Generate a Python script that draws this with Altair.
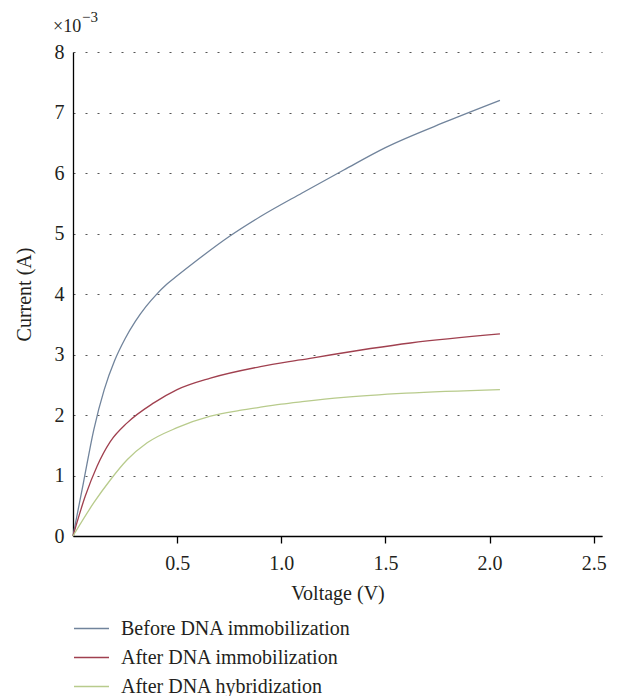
import altair as alt
import pandas as pd

FONT = "Liberation Serif"
TXT = "#231f20"

series_names = ["Before DNA immobilization", "After DNA immobilization", "After DNA hybridization"]
series_colors = ["#71849c", "#a0404f", "#b8cb8c"]

before_v = [0, 0.05, 0.10, 0.15, 0.20, 0.25, 0.30, 0.35, 0.40, 0.45, 0.50, 0.60, 0.75, 0.90, 1.10, 1.30, 1.50, 1.80, 2.05]
before_i = [0, 0.88, 1.76, 2.42, 2.90, 3.26, 3.55, 3.79, 3.99, 4.16, 4.30, 4.57, 4.95, 5.28, 5.67, 6.05, 6.42, 6.86, 7.20]

immob_v = [0, 0.059, 0.115, 0.179, 0.26, 0.388, 0.5, 0.66, 0.90, 1.09, 1.62, 2.05]
immob_i = [0, 0.66, 1.15, 1.56, 1.87, 2.2, 2.42, 2.61, 2.80, 2.91, 3.19, 3.34]

hybr_v = [0, 0.1, 0.18, 0.26, 0.356, 0.5, 0.66, 0.80, 0.90, 1.00, 1.10, 1.30, 1.60, 2.05]
hybr_i = [0, 0.55, 0.93, 1.26, 1.54, 1.79, 1.98, 2.075, 2.13, 2.18, 2.22, 2.29, 2.36, 2.42]

x_ticks = [0.5, 1.0, 1.5, 2.0, 2.5]
y_ticks = [0, 1, 2, 3, 4, 5, 6, 7, 8]

rows = []
for name, vs, cs in zip(series_names, [before_v, immob_v, hybr_v], [before_i, immob_i, hybr_i]):
    for k, (v, c) in enumerate(zip(vs, cs)):
        rows.append({"series": name, "voltage": v, "current": c, "order": k})
df = pd.DataFrame(rows)

lines = alt.Chart(df).mark_line(strokeWidth=1.3, interpolate="monotone").encode(
    x=alt.X("voltage:Q", title="Voltage (V)",
            scale=alt.Scale(domain=[0, 2.54], nice=False, zero=True),
            axis=alt.Axis(values=x_ticks, format=".1f", grid=False, tickSize=7,
                          tickColor="black", domainColor="black", domainWidth=1.3,
                          tickWidth=1.3, labelPadding=10, titlePadding=10,
                          labelFontSize=20)),
    y=alt.Y("current:Q", title="Current (A)",
            scale=alt.Scale(domain=[0, 8], nice=False),
            axis=alt.Axis(values=y_ticks, format="d", grid=True, ticks=False,
                          gridDash=[2, 10], gridColor="#555555", gridWidth=1.2,
                          domainColor="black", domainWidth=1.3,
                          labelPadding=9, titlePadding=20, labelFontSize=20)),
    color=alt.Color("series:N", scale=alt.Scale(domain=series_names, range=series_colors),
                    legend=alt.Legend(title=None, orient="none", legendX=0, legendY=558,
                                      symbolType="stroke", symbolSize=1225,
                                      symbolStrokeWidth=1.3, labelFontSize=20,
                                      labelFont=FONT, labelColor=TXT, labelOffset=11,
                                      labelLimit=0, rowPadding=-9, padding=0)),
    order="order:Q",
)

exp_base = alt.Chart(pd.DataFrame({"t": ["×10"]})).mark_text(
    font=FONT, fontSize=18, color=TXT, align="left", baseline="middle"
).encode(x=alt.value(-20), y=alt.value(-25), text="t:N")

exp_sup = alt.Chart(pd.DataFrame({"t": ["−3"]})).mark_text(
    font=FONT, fontSize=15, color=TXT, align="left", baseline="middle"
).encode(x=alt.value(9), y=alt.value(-35), text="t:N")

chart = alt.layer(lines, exp_base, exp_sup).properties(
    width=529, height=484,
    autosize=alt.AutoSizeParams(type="none"),
    padding={"left": 73, "top": 52, "right": 17, "bottom": 160},
).configure_view(stroke=None).configure_axis(
    labelFont=FONT, titleFont=FONT, titleFontSize=20,
    labelColor=TXT, titleColor=TXT, titleFontWeight="normal",
)

chart.save("out.html", embed_options={"renderer": "svg", "actions": False})
